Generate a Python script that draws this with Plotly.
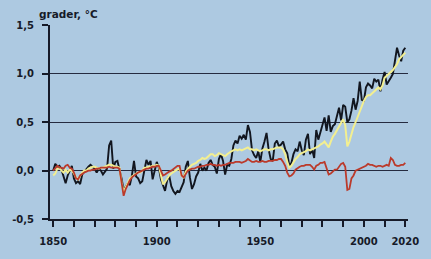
import plotly.graph_objects as go

years = list(range(1850, 2021))

observed = [
    0.00, 0.07, 0.04, 0.05, 0.01, -0.05, -0.13, -0.05, 0.01, 0.05,
    -0.08, -0.13, -0.11, -0.14, -0.04, -0.01, 0.02, 0.04, 0.06, 0.04,
    0.02, -0.02, 0.02, 0.00, -0.04, -0.01, 0.02, 0.26, 0.31, 0.02,
    0.09, 0.10, 0.02, -0.08, -0.20, -0.17, -0.13, -0.15, -0.05, 0.10,
    -0.06, -0.08, -0.13, -0.11, 0.01, 0.11, 0.06, 0.10, -0.09, 0.01,
    0.09, 0.03, -0.09, -0.15, -0.21, -0.10, -0.05, -0.16, -0.21, -0.24,
    -0.21, -0.22, -0.17, -0.12, 0.04, 0.10, -0.07, -0.19, -0.14, -0.06,
    -0.02, 0.07, 0.00, 0.03, 0.00, 0.08, 0.11, 0.06, 0.04, -0.03,
    0.12, 0.17, 0.10, -0.04, 0.06, 0.05, 0.12, 0.26, 0.31, 0.28,
    0.36, 0.33, 0.37, 0.32, 0.47, 0.40, 0.21, 0.16, 0.13, 0.20,
    0.09, 0.23, 0.30, 0.39, 0.22, 0.12, 0.10, 0.28, 0.31, 0.25,
    0.27, 0.30, 0.22, 0.18, 0.05, 0.08, 0.17, 0.22, 0.20, 0.30,
    0.21, 0.16, 0.32, 0.38, 0.17, 0.22, 0.13, 0.42, 0.32, 0.40,
    0.46, 0.55, 0.41, 0.57, 0.40, 0.46, 0.48, 0.58, 0.65, 0.52,
    0.68, 0.66, 0.50, 0.53, 0.62, 0.75, 0.63, 0.72, 0.92, 0.73,
    0.72, 0.86, 0.90, 0.88, 0.85, 0.95, 0.92, 0.94, 0.82, 0.94,
    1.02, 0.89, 0.92, 0.96, 1.00, 1.12, 1.27, 1.19, 1.13, 1.24,
    1.27,
]

human_natural = [
    -0.05, -0.03, 0.02, 0.03, 0.00, -0.02, 0.01, -0.02, 0.01, 0.00,
    -0.03, -0.07, -0.09, -0.05, -0.02, 0.00, 0.00, 0.02, 0.03, 0.04,
    0.04, 0.03, 0.02, 0.03, 0.03, 0.04, 0.05, 0.06, 0.06, 0.05,
    0.04, 0.04, 0.03, -0.12, -0.22, -0.17, -0.12, -0.08, -0.06, -0.04,
    -0.03, -0.02, -0.02, 0.00, 0.03, 0.03, 0.04, 0.04, 0.05, 0.05,
    0.06, 0.05, -0.06, -0.14, -0.12, -0.08, -0.05, -0.03, -0.01, 0.00,
    0.01, 0.02, -0.05, -0.07, -0.01, 0.02, 0.04, 0.06, 0.07, 0.08,
    0.10, 0.11, 0.13, 0.12, 0.13, 0.15, 0.17, 0.17, 0.15, 0.16,
    0.18, 0.17, 0.16, 0.15, 0.17, 0.19, 0.20, 0.21, 0.22, 0.21,
    0.22, 0.21, 0.22, 0.23, 0.24, 0.22, 0.22, 0.21, 0.22, 0.21,
    0.20, 0.21, 0.22, 0.22, 0.21, 0.22, 0.22, 0.23, 0.24, 0.24,
    0.24, 0.22, 0.17, 0.09, 0.03, 0.05, 0.09, 0.12, 0.14, 0.17,
    0.18, 0.19, 0.20, 0.22, 0.21, 0.22, 0.23, 0.24, 0.25, 0.27,
    0.28, 0.30, 0.27, 0.24, 0.30, 0.35, 0.38, 0.42, 0.46, 0.50,
    0.53, 0.47, 0.25, 0.30, 0.38, 0.45, 0.50, 0.56, 0.62, 0.68,
    0.72, 0.76, 0.78, 0.78, 0.80, 0.83, 0.84, 0.86, 0.84, 0.88,
    0.96, 0.98, 1.00, 1.01, 1.04, 1.07, 1.10, 1.15, 1.17, 1.20,
    1.22,
]

natural_only = [
    0.00, 0.02, 0.05, 0.03, 0.03, 0.02, 0.05, 0.06, 0.03, 0.02,
    -0.02, -0.08, -0.09, -0.05, -0.03, -0.02, -0.01, 0.00, 0.00, 0.01,
    0.01, 0.02, 0.02, 0.03, 0.03, 0.03, 0.03, 0.04, 0.03, 0.03,
    0.03, 0.03, 0.02, -0.15, -0.26, -0.19, -0.14, -0.10, -0.07, -0.05,
    -0.03, -0.02, -0.01, 0.00, 0.01, 0.02, 0.02, 0.03, 0.04, 0.04,
    0.05, 0.05, -0.01, -0.05, -0.04, -0.02, -0.01, 0.00, 0.02, 0.03,
    0.05, 0.05, -0.05, -0.07, -0.03, 0.00, 0.01, 0.02, 0.02, 0.03,
    0.04, 0.04, 0.05, 0.05, 0.06, 0.06, 0.07, 0.06, 0.06, 0.05,
    0.06, 0.05, 0.06, 0.06, 0.07, 0.08, 0.08, 0.08, 0.09, 0.09,
    0.09, 0.08, 0.09, 0.10, 0.12, 0.10, 0.09, 0.09, 0.10, 0.09,
    0.09, 0.10, 0.09, 0.09, 0.10, 0.10, 0.10, 0.11, 0.11, 0.12,
    0.12, 0.09, 0.05, -0.02, -0.06, -0.05, -0.03, 0.01, 0.03, 0.04,
    0.05, 0.05, 0.06, 0.06, 0.06, 0.04, 0.01, 0.05, 0.06, 0.08,
    0.08, 0.09, 0.03, -0.04, -0.03, -0.01, 0.01, 0.01, 0.04, 0.07,
    0.08, 0.04, -0.20, -0.19, -0.08, -0.05, 0.00, 0.01, 0.02, 0.03,
    0.04, 0.05, 0.07, 0.06, 0.06, 0.05, 0.04, 0.05, 0.05, 0.04,
    0.05, 0.06, 0.05, 0.13, 0.11, 0.06, 0.05, 0.05, 0.06, 0.06,
    0.08,
]

y_tickvals = [-0.5, 0.0, 0.5, 1.0, 1.5]
y_ticktext = ["-0,5", "0,0", "0,5", "1,0", "1,5"]
x_tickvals = [1850, 1860, 1870, 1880, 1890, 1900, 1910, 1920, 1930, 1940,
              1950, 1960, 1970, 1980, 1990, 2000, 2010, 2020]
x_ticktext = ["1850", "", "", "", "", "1900", "", "", "", "",
              "1950", "", "", "", "", "2000", "", "2020"]
y_title = "grader, °C"

assert len(observed) == len(years) == len(human_natural) == len(natural_only)

bg = "#adc9e1"
ink = "#161a28"
font_family = "DejaVu Sans"

fig = go.Figure()
fig.add_trace(go.Scatter(x=years, y=observed, mode="lines",
                         line=dict(color="#12161f", width=1.9), name="observed"))
fig.add_trace(go.Scatter(x=years, y=human_natural, mode="lines",
                         line=dict(color="#f3ef90", width=2), name="human + natural"))
fig.add_trace(go.Scatter(x=years, y=natural_only, mode="lines",
                         line=dict(color="#bb3a2b", width=1.8), name="natural"))

fig.update_layout(
    width=431, height=259,
    margin=dict(l=46, r=16, t=25, b=37),
    paper_bgcolor=bg, plot_bgcolor=bg,
    showlegend=False,
    title=dict(text=y_title, x=39/431, xanchor="left", y=1-14/259, yanchor="middle",
               font=dict(family=font_family, size=10.5, color=ink, weight="bold")),
)
fig.update_xaxes(
    range=[1848.45, 2021.3], tickmode="array", tickvals=x_tickvals, ticktext=x_ticktext,
    showgrid=False, zeroline=False,
    showline=True, linecolor=ink, linewidth=2,
    ticks="outside", ticklen=6, tickwidth=2, tickcolor=ink,
    tickfont=dict(family=font_family, size=10, color=ink, weight="bold"),
    ticklabelstandoff=6,
)
fig.update_yaxes(
    range=[-0.5, 1.505], tickmode="array", tickvals=y_tickvals, ticktext=y_ticktext,
    showgrid=True, gridcolor="#252b40", gridwidth=1.2, zeroline=False,
    showline=True, linecolor=ink, linewidth=2,
    ticks="outside", ticklen=6, tickwidth=2, tickcolor=ink,
    tickfont=dict(family=font_family, size=10, color=ink, weight="bold"),
    ticklabelstandoff=6,
)

fig.write_html("out.html", config={"displayModeBar": False})

# remove the default page margin so the figure sits at the window's origin
with open("out.html", "r", encoding="utf-8") as f:
    html = f.read()
html = html.replace("<body>", "<body style=\"margin:0;padding:0;overflow:hidden;\">", 1)
with open("out.html", "w", encoding="utf-8") as f:
    f.write(html)
